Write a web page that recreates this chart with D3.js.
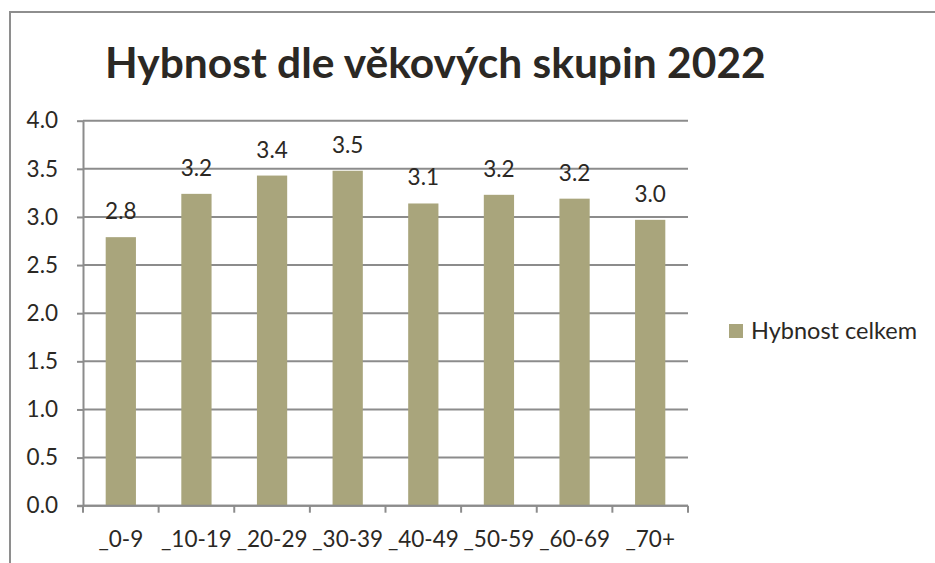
<!DOCTYPE html>
<html lang="cs">
<head>
<meta charset="utf-8">
<title>Hybnost dle věkových skupin 2022</title>
<script src="https://cdn.jsdelivr.net/npm/d3@7"></script>
<style>
  html, body { margin: 0; padding: 0; background: #ffffff; }
  svg { display: block; font-family: Lato, "Open Sans", sans-serif; }
</style>
</head>
<body>
<svg id="chart" width="935" height="563"></svg>
<script>
// Age groups and the mean momentum ("hybnost") per group for 2022
const chartTitle = "Hybnost dle věkových skupin 2022";
const seriesName = "Hybnost celkem";
const categories = ["_0-9", "_10-19", "_20-29", "_30-39", "_40-49", "_50-59", "_60-69", "_70+"];
const values = [2.79, 3.24, 3.43, 3.48, 3.14, 3.23, 3.19, 2.97];
const yTicks = [0, 0.5, 1.0, 1.5, 2.0, 2.5, 3.0, 3.5, 4.0];

const barColor = "#a9a57c";
const gridColor = "#8c8c8c";
const textColor = "#2b2824";

const svg = d3.select("#chart");

// Frame around the chart area
svg.append("path")
  .attr("d", "M10,563 L10,12 L935,12")
  .attr("fill", "none")
  .attr("stroke", "#8e8e8e")
  .attr("stroke-width", 2);

// Plot area
const plot = { left: 83, right: 688, top: 120.7, bottom: 505.7 };

const x = d3.scaleBand()
  .domain(categories)
  .range([plot.left, plot.right])
  .paddingInner(0.6)
  .paddingOuter(0.3);

const y = d3.scaleLinear()
  .domain([0, 4])
  .range([plot.bottom, plot.top]);

// Horizontal gridlines
svg.append("g")
  .selectAll("line")
  .data(yTicks)
  .join("line")
  .attr("x1", plot.left)
  .attr("x2", plot.right)
  .attr("y1", d => y(d))
  .attr("y2", d => y(d))
  .attr("stroke", gridColor)
  .attr("stroke-width", 2);

// Bars
svg.append("g")
  .selectAll("rect")
  .data(values)
  .join("rect")
  .attr("x", (d, i) => x(categories[i]))
  .attr("width", x.bandwidth())
  .attr("y", d => y(d))
  .attr("height", d => y(0) - y(d))
  .attr("fill", barColor);

// Value labels above the bars
svg.append("g")
  .selectAll("text")
  .data(values)
  .join("text")
  .attr("x", (d, i) => x(categories[i]) + x.bandwidth() / 2)
  .attr("y", d => y(d) - 18)
  .attr("text-anchor", "middle")
  .attr("font-size", 22.5)
  .attr("fill", textColor)
  .text(d => d3.format(".1f")(d));

// Y axis
const yAxis = svg.append("g")
  .attr("transform", `translate(${plot.left},0)`)
  .call(d3.axisLeft(y)
    .tickValues(yTicks)
    .tickFormat(d3.format(".1f"))
    .tickSizeInner(6)
    .tickSizeOuter(0)
    .tickPadding(19));
yAxis.select(".domain").attr("stroke", gridColor).attr("stroke-width", 2);
yAxis.selectAll(".tick line").attr("stroke", gridColor).attr("stroke-width", 2);
yAxis.selectAll(".tick text")
  .attr("font-size", 22.5)
  .attr("font-family", "Lato, 'Open Sans', sans-serif")
  .attr("fill", textColor);

// X axis: labels under the band centres, tick marks on the band boundaries
const xAxis = svg.append("g")
  .attr("transform", `translate(0,${plot.bottom})`)
  .call(d3.axisBottom(x)
    .tickSize(0)
    .tickPadding(25));
xAxis.select(".domain").remove();
xAxis.selectAll(".tick text")
  .attr("font-size", 22.5)
  .attr("font-family", "Lato, 'Open Sans', sans-serif")
  .attr("fill", textColor);

xAxis.append("line")
  .attr("x1", plot.left - 6)
  .attr("x2", plot.right)
  .attr("stroke", gridColor)
  .attr("stroke-width", 2);

const boundaries = d3.range(categories.length + 1).map(i => plot.left + i * x.step());
xAxis.selectAll(".boundary")
  .data(boundaries)
  .join("line")
  .attr("class", "boundary")
  .attr("x1", d => d)
  .attr("x2", d => d)
  .attr("y1", 0)
  .attr("y2", 7)
  .attr("stroke", gridColor)
  .attr("stroke-width", 2);

// Title
svg.append("text")
  .attr("x", 105)
  .attr("y", 78)
  .attr("font-size", 42.5)
  .attr("font-weight", 700)
  .attr("fill", textColor)
  .text(chartTitle);

// Legend
const legend = svg.append("g").attr("transform", "translate(729,324)");
legend.append("rect")
  .attr("width", 14)
  .attr("height", 14)
  .attr("fill", barColor);
legend.append("text")
  .attr("x", 22)
  .attr("y", 15)
  .attr("font-size", 23.5)
  .attr("fill", textColor)
  .text(seriesName);
</script>
</body>
</html>
